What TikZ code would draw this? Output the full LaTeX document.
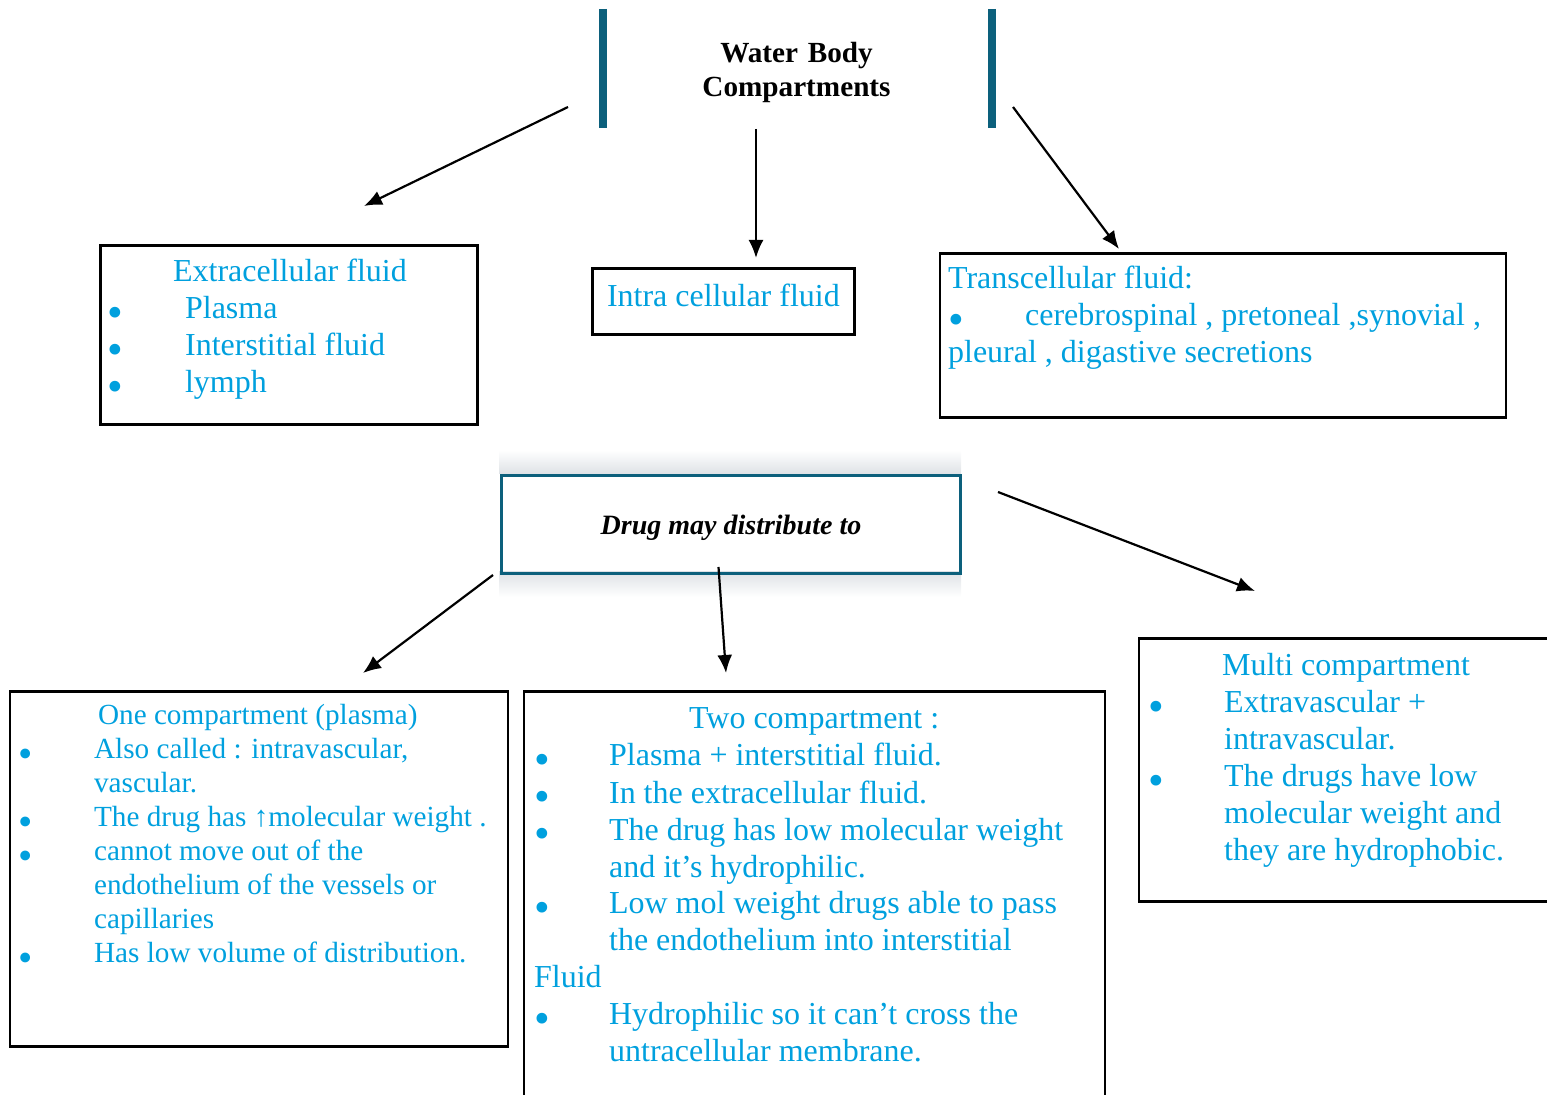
\documentclass[tikz,border=0pt]{standalone}
\usepackage{fontspec}
\setmainfont{Liberation Serif}
\usetikzlibrary{arrows.meta,positioning}

\definecolor{txtblue}{RGB}{0,160,222}
\definecolor{barteal}{RGB}{12,96,124}
\definecolor{shadowgray}{RGB}{222,226,230}

% bullet in a box of given width, and a plain indent
\newcommand{\bpt}[1]{\makebox[#1][l]{\raisebox{-0.28em}{\scalebox{1.4}{\textbullet}}}}
\newcommand{\indnt}[1]{\hspace*{#1}}

\begin{document}
\begin{tikzpicture}[
    x=0.5pt,
    y=-0.5pt,
    >={Latex[length=9pt,width=7.5pt]},
    line width=1.1pt,
    box/.style={draw, rectangle, line width=1.4pt, anchor=north west, inner sep=0pt},
    txt/.style={text=txtblue, align=flush left, anchor=base west, inner sep=0pt,
                font=\fontsize{16}{18.5}\selectfont},
    smalltxt/.style={txt, font=\fontsize{14.6}{17}\selectfont},
    bar/.style={draw=barteal, line width=4pt}
]
    \useasboundingbox (0,0) rectangle (1547,1095);
    \clip (0,0) rectangle (1547,1095);

    % title with its two bars
    \node[anchor=base, align=center, text width=140pt, inner sep=0pt,
          font=\fontsize{14.6}{17}\selectfont\bfseries] (wbc) at (796.5,62.7)
          {Water Body\\Compartments};
    \draw[bar] (602.5,9) -- (602.5,128);
    \draw[bar] (991.5,9) -- (991.5,128);

    % water compartments
    \node[box, minimum width=188.5pt, minimum height=89.5pt] (ecf) at (99,244) {};
    \node[txt, text width=180pt] (ecf-txt) at (106,281.7)
        {\indnt{33pt}Extracellular fluid\\
         \bpt{39pt}Plasma\\
         \bpt{39pt}Interstitial fluid\\
         \bpt{39pt}lymph};

    \node[box, minimum width=131pt, minimum height=33pt, text=txtblue,
          text height=10pt, text depth=5pt, font=\fontsize{16}{18.5}\selectfont]
          (icf) at (591,267) {Intra cellular fluid};

    \node[box, minimum width=283pt, minimum height=82pt] (tcf) at (938.5,252) {};
    \node[txt, text width=280pt] (tcf-txt) at (947,289)
        {Transcellular fluid:\\
         \bpt{38.5pt}cerebrospinal , pretoneal ,synovial ,\\
         pleural , digastive secretions};

    % distribution
    \shade[top color=white, bottom color=shadowgray] (499,450) rectangle (961,474);
    \shade[top color=shadowgray, bottom color=white] (499,572) rectangle (961,597);
    \node[box, draw=barteal, line width=1.5pt, minimum width=229.5pt, minimum height=49pt,
          text height=12pt, text depth=2pt,
          font=\fontsize{14}{16}\selectfont\bfseries\itshape]
          (drug) at (500,474) {Drug may distribute to};

    \node[box, minimum width=249pt, minimum height=177.5pt] (one) at (8.5,690) {};
    \node[smalltxt, text width=240pt] (one-txt) at (17,725)
        {\indnt{40pt}One compartment (plasma)\\
         \bpt{38pt}Also called : intravascular,\\
         \indnt{38pt}vascular.\\
         \bpt{38pt}The drug has ↑molecular weight .\\
         \bpt{38pt}cannot move out of the\\
         \indnt{38pt}endothelium of the vessels or\\
         \indnt{38pt}capillaries\\
         \bpt{38pt}Has low volume of distribution.};

    \node[box, minimum width=290.5pt, minimum height=215pt] (two) at (522.5,690) {};
    \node[txt, text width=285pt] (two-txt) at (533,729)
        {\indnt{77.5pt}Two compartment :\\
         \bpt{37.5pt}Plasma + interstitial fluid.\\
         \bpt{37.5pt}In the extracellular fluid.\\
         \bpt{37.5pt}The drug has low molecular weight\\
         \indnt{37.5pt}and it’s hydrophilic.\\
         \bpt{37.5pt}Low mol weight drugs able to pass\\
         \indnt{37.5pt}the endothelium into interstitial\\
         Fluid\\
         \bpt{37.5pt}Hydrophilic so it can’t cross the\\
         \indnt{37.5pt}untracellular membrane.};

    \node[box, minimum width=215pt, minimum height=131.5pt] (multi) at (1137.5,637) {};
    \node[txt, text width=200pt] (multi-txt) at (1147,675.5)
        {\indnt{37pt}Multi compartment\\
         \bpt{38pt}Extravascular +\\
         \indnt{38pt}intravascular.\\
         \bpt{38pt}The drugs have low\\
         \indnt{38pt}molecular weight and\\
         \indnt{38pt}they are hydrophobic.};

    % arrow ends
    \coordinate (wbc-l) at (568,107);
    \coordinate (wbc-m) at (756,129);
    \coordinate (wbc-r) at (1013,107);
    \coordinate (ecf-tip) at (364,206);
    \coordinate (icf-tip) at (756,258);
    \coordinate (tcf-tip) at (1119,249);
    \coordinate (drug-l) at (493,575);
    \coordinate (drug-m) at (718.5,567);
    \coordinate (drug-r) at (998,492);
    \coordinate (one-tip) at (363,673);
    \coordinate (two-tip) at (726,673);
    \coordinate (multi-tip) at (1255,591);

    \draw[->] (wbc-l) -- (ecf-tip);
    \draw[->] (wbc-m) -- (icf-tip);
    \draw[->] (wbc-r) -- (tcf-tip);
    \draw[->] (drug-l) -- (one-tip);
    \draw[->] (drug-m) -- (two-tip);
    \draw[->] (drug-r) -- (multi-tip);
\end{tikzpicture}
\end{document}
